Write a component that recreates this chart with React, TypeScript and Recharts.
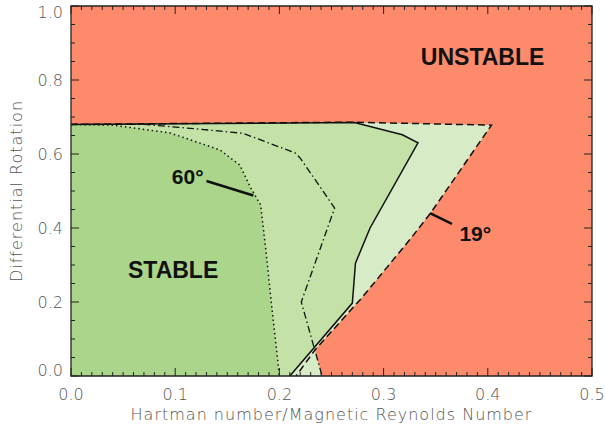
import {
  ComposedChart,
  Scatter,
  XAxis,
  YAxis,
  ReferenceArea,
  ReferenceLine,
  ReferenceDot,
} from 'recharts';

// ── Data ─────────────────────────────────────────────────────────────────────
// Stability boundaries: x = Hartman number / magnetic Reynolds number,
// y = differential rotation. Each boundary starts on the top edge at y ≈ 0.68.

// 60° boundary (dotted)
const dottedX = [0, 0.04, 0.095, 0.143, 0.162, 0.172, 0.182, 0.187, 0.192, 0.2];
const dottedY = [0.68, 0.678, 0.657, 0.611, 0.57, 0.511, 0.462, 0.341, 0.205, 0];

// dash-dot boundary
const dashDotX = [0, 0.07, 0.12, 0.165, 0.215, 0.22, 0.253, 0.221, 0.241];
const dashDotY = [0.68, 0.68, 0.668, 0.656, 0.603, 0.589, 0.454, 0.2, 0];

// solid boundary
const solidX = [0, 0.272, 0.318, 0.333, 0.287, 0.273, 0.27, 0.21];
const solidY = [0.68, 0.685, 0.652, 0.63, 0.4, 0.305, 0.197, 0];

// 19° boundary (dashed)
const dashedX = [0, 0.27, 0.4035, 0.345, 0.325, 0.279, 0.234, 0.216];
const dashedY = [0.68, 0.686, 0.678, 0.44, 0.368, 0.211, 0.07, 0];

const X_DOMAIN = [0, 0.5];
const Y_DOMAIN = [0, 1];
const X_TICKS = Array.from({ length: 51 }, (_, i) => i / 100);
const Y_TICKS = Array.from({ length: 21 }, (_, i) => i / 20);

// annotations
const labels = [
  { text: 'UNSTABLE', x: 0.395, y: 0.862, size: 23 },
  { text: 'STABLE', x: 0.098, y: 0.286, size: 23 },
  { text: '60°', x: 0.112, y: 0.54, size: 21 },
  { text: '19°', x: 0.388, y: 0.384, size: 21 },
];
const pointers = [
  [{ x: 0.13, y: 0.527 }, { x: 0.175, y: 0.488 }],
  [{ x: 0.3445, y: 0.44 }, { x: 0.3656, y: 0.411 }],
];

// ── Layout / style ───────────────────────────────────────────────────────────

const WIDTH = 605;
const HEIGHT = 432;
const MARGIN = { top: 6, right: 13, bottom: 0, left: 0 };
const Y_AXIS_W = 71;
const X_AXIS_H = 56;
const PLOT_TOP = MARGIN.top;
const PLOT_BOTTOM = HEIGHT - MARGIN.bottom - X_AXIS_H;
const PLOT_LEFT = MARGIN.left + Y_AXIS_W;
const PLOT_RIGHT = WIDTH - MARGIN.right;
const MAJOR_TICK = 8;
const MINOR_TICK = 4;

const RED = '#fd8b6b';
const GREEN_DARK = '#aad58b';
const GREEN_MID = '#c4e1a8';
const GREEN_LIGHT = '#d7ebc7';
const FRAME = '#222';
const AXIS_TEXT = '#555';
const AXIS_FONT = '"DejaVu Sans", sans-serif';
const MARK_FONT = '"Liberation Sans", Arial, sans-serif';

// ── Helpers ──────────────────────────────────────────────────────────────────

const pts = (xs: number[], ys: number[]) => xs.map((x, i) => ({ x, y: ys[i] }));

const dottedPts = pts(dottedX, dottedY);
const dashDotPts = pts(dashDotX, dashDotY);
const solidPts = pts(solidX, solidY);
const dashedPts = pts(dashedX, dashedY);
const origin = { x: X_DOMAIN[0], y: Y_DOMAIN[0] };

const boxPts = [
  { x: X_DOMAIN[0], y: Y_DOMAIN[0] },
  { x: X_DOMAIN[1], y: Y_DOMAIN[0] },
  { x: X_DOMAIN[1], y: Y_DOMAIN[1] },
  { x: X_DOMAIN[0], y: Y_DOMAIN[1] },
];
// union of stable regions: 19° edge down to where it meets the dash-dot edge
const lightPts = [origin, ...dashedPts.slice(0, 7), dashDotPts[dashDotPts.length - 1]];
const midPts = [origin, ...solidPts];
const darkPts = [origin, ...dottedPts];

const Nothing = () => <g />;

function region(key: string, data: { x: number; y: number }[], color: string) {
  return (
    <Scatter
      key={key}
      data={data}
      shape={Nothing}
      fill="none"
      line={{ fill: color, stroke: 'none' }}
      lineType="joint"
      isAnimationActive={false}
      zIndex={50}
    />
  );
}

function boundary(key: string, data: { x: number; y: number }[], dash?: string, width = 1.5) {
  return (
    <Scatter
      key={key}
      data={data}
      shape={Nothing}
      fill="none"
      line={{ fill: 'none', stroke: '#111', strokeWidth: width, strokeDasharray: dash }}
      lineType="joint"
      isAnimationActive={false}
      zIndex={400}
    />
  );
}

function XTick(props: any) {
  const { payload } = props;
  const cx = payload.coordinate ?? props.x;
  const hundredths = Math.round(payload.value * 100);
  const major = hundredths % 10 === 0;
  const len = major ? MAJOR_TICK : MINOR_TICK;
  return (
    <g>
      <line x1={cx} x2={cx} y1={PLOT_BOTTOM} y2={PLOT_BOTTOM - len} stroke={FRAME} />
      <line x1={cx} x2={cx} y1={PLOT_TOP} y2={PLOT_TOP + len} stroke={FRAME} />
      {major && (
        <text
          x={cx}
          y={PLOT_BOTTOM + 24}
          textAnchor="middle"
          fill={AXIS_TEXT}
          fontSize={16}
          fontWeight={200}
          fontFamily={AXIS_FONT}
        >
          {(hundredths / 100).toFixed(1)}
        </text>
      )}
    </g>
  );
}

function YTick(props: any) {
  const { payload } = props;
  const cy = payload.coordinate ?? props.y;
  const twentieths = Math.round(payload.value * 20);
  const major = twentieths % 4 === 0;
  const len = major ? MAJOR_TICK : MINOR_TICK;
  // end labels sit just inside the frame
  const nudge = twentieths === 20 ? 6 : twentieths === 0 ? -6 : 0;
  return (
    <g>
      <line x1={PLOT_LEFT} x2={PLOT_LEFT + len} y1={cy} y2={cy} stroke={FRAME} />
      <line x1={PLOT_RIGHT} x2={PLOT_RIGHT - len} y1={cy} y2={cy} stroke={FRAME} />
      {major && (
        <text
          x={PLOT_LEFT - 8}
          y={cy + 6 + nudge}
          textAnchor="end"
          fill={AXIS_TEXT}
          fontSize={16}
          fontWeight={200}
          fontFamily={AXIS_FONT}
        >
          {(twentieths / 20).toFixed(1)}
        </text>
      )}
    </g>
  );
}

const axisTitle = {
  fill: AXIS_TEXT,
  fontSize: 16,
  fontWeight: 200,
  fontFamily: AXIS_FONT,
  letterSpacing: 1,
};

function XTitle(props: any) {
  const vb = props.viewBox;
  return (
    <text
      x={vb.x + vb.width / 2}
      y={vb.y + 38}
      textAnchor="middle"
      dominantBaseline="central"
      {...axisTitle}
    >
      Hartman number/Magnetic Reynolds Number
    </text>
  );
}

function YTitle(props: any) {
  const vb = props.viewBox;
  const cx = vb.x + 16;
  const cy = vb.y + vb.height / 2;
  return (
    <text
      x={cx}
      y={cy}
      transform={`rotate(-90 ${cx} ${cy})`}
      textAnchor="middle"
      dominantBaseline="central"
      {...axisTitle}
    >
      Differential Rotation
    </text>
  );
}

function markText(text: string, size: number) {
  return (props: any) => {
    const vb = props.viewBox;
    return (
      <text
        x={vb.x + (vb.width || 0) / 2}
        y={vb.y + (vb.height || 0) / 2}
        textAnchor="middle"
        dominantBaseline="central"
        fill="#111"
        fontSize={size}
        fontWeight={700}
        fontFamily={MARK_FONT}
      >
        {text}
      </text>
    );
  };
}

// ── Chart ────────────────────────────────────────────────────────────────────

export default function App() {
  return (
    <div style={{ position: 'absolute', left: 0, top: 0, background: '#fff' }}>
      <ComposedChart width={WIDTH} height={HEIGHT} margin={MARGIN}>
        {region('bg', boxPts, RED)}
        {region('light', lightPts, GREEN_LIGHT)}
        {region('mid', midPts, GREEN_MID)}
        {region('dark', darkPts, GREEN_DARK)}

        {boundary('dashed', dashedPts, '7 4')}
        {boundary('solid', solidPts)}
        {boundary('dashdot', dashDotPts, '7 3 1.5 3', 1.3)}
        {boundary('dotted', dottedPts, '1.5 3', 1.5)}

        <XAxis
          dataKey="x"
          type="number"
          domain={X_DOMAIN}
          ticks={X_TICKS}
          interval={0}
          tickSize={0}
          tickMargin={0}
          height={X_AXIS_H}
          axisLine={false}
          tickLine={false}
          tick={(p: any) => <XTick {...p} />}
          label={{ content: XTitle }}
        />
        <YAxis
          dataKey="y"
          type="number"
          domain={Y_DOMAIN}
          ticks={Y_TICKS}
          interval={0}
          tickSize={0}
          tickMargin={0}
          width={Y_AXIS_W}
          axisLine={false}
          tickLine={false}
          tick={(p: any) => <YTick {...p} />}
          label={{ content: YTitle }}
        />

        <ReferenceArea
          x1={X_DOMAIN[0]}
          x2={X_DOMAIN[1]}
          y1={Y_DOMAIN[0]}
          y2={Y_DOMAIN[1]}
          fill="none"
          fillOpacity={0}
          stroke={FRAME}
          strokeWidth={1.3}
          ifOverflow="visible"
          zIndex={1500}
        />

        {pointers.map((seg, i) => (
          <ReferenceLine
            key={`ptr-${i}`}
            segment={seg}
            stroke="#111"
            strokeWidth={2.5}
            ifOverflow="visible"
            zIndex={1600}
          />
        ))}

        {labels.map((l) => (
          <ReferenceDot
            key={l.text}
            x={l.x}
            y={l.y}
            r={0}
            fill="none"
            stroke="none"
            ifOverflow="visible"
            label={{ content: markText(l.text, l.size) }}
            zIndex={1700}
          />
        ))}
      </ComposedChart>
    </div>
  );
}
